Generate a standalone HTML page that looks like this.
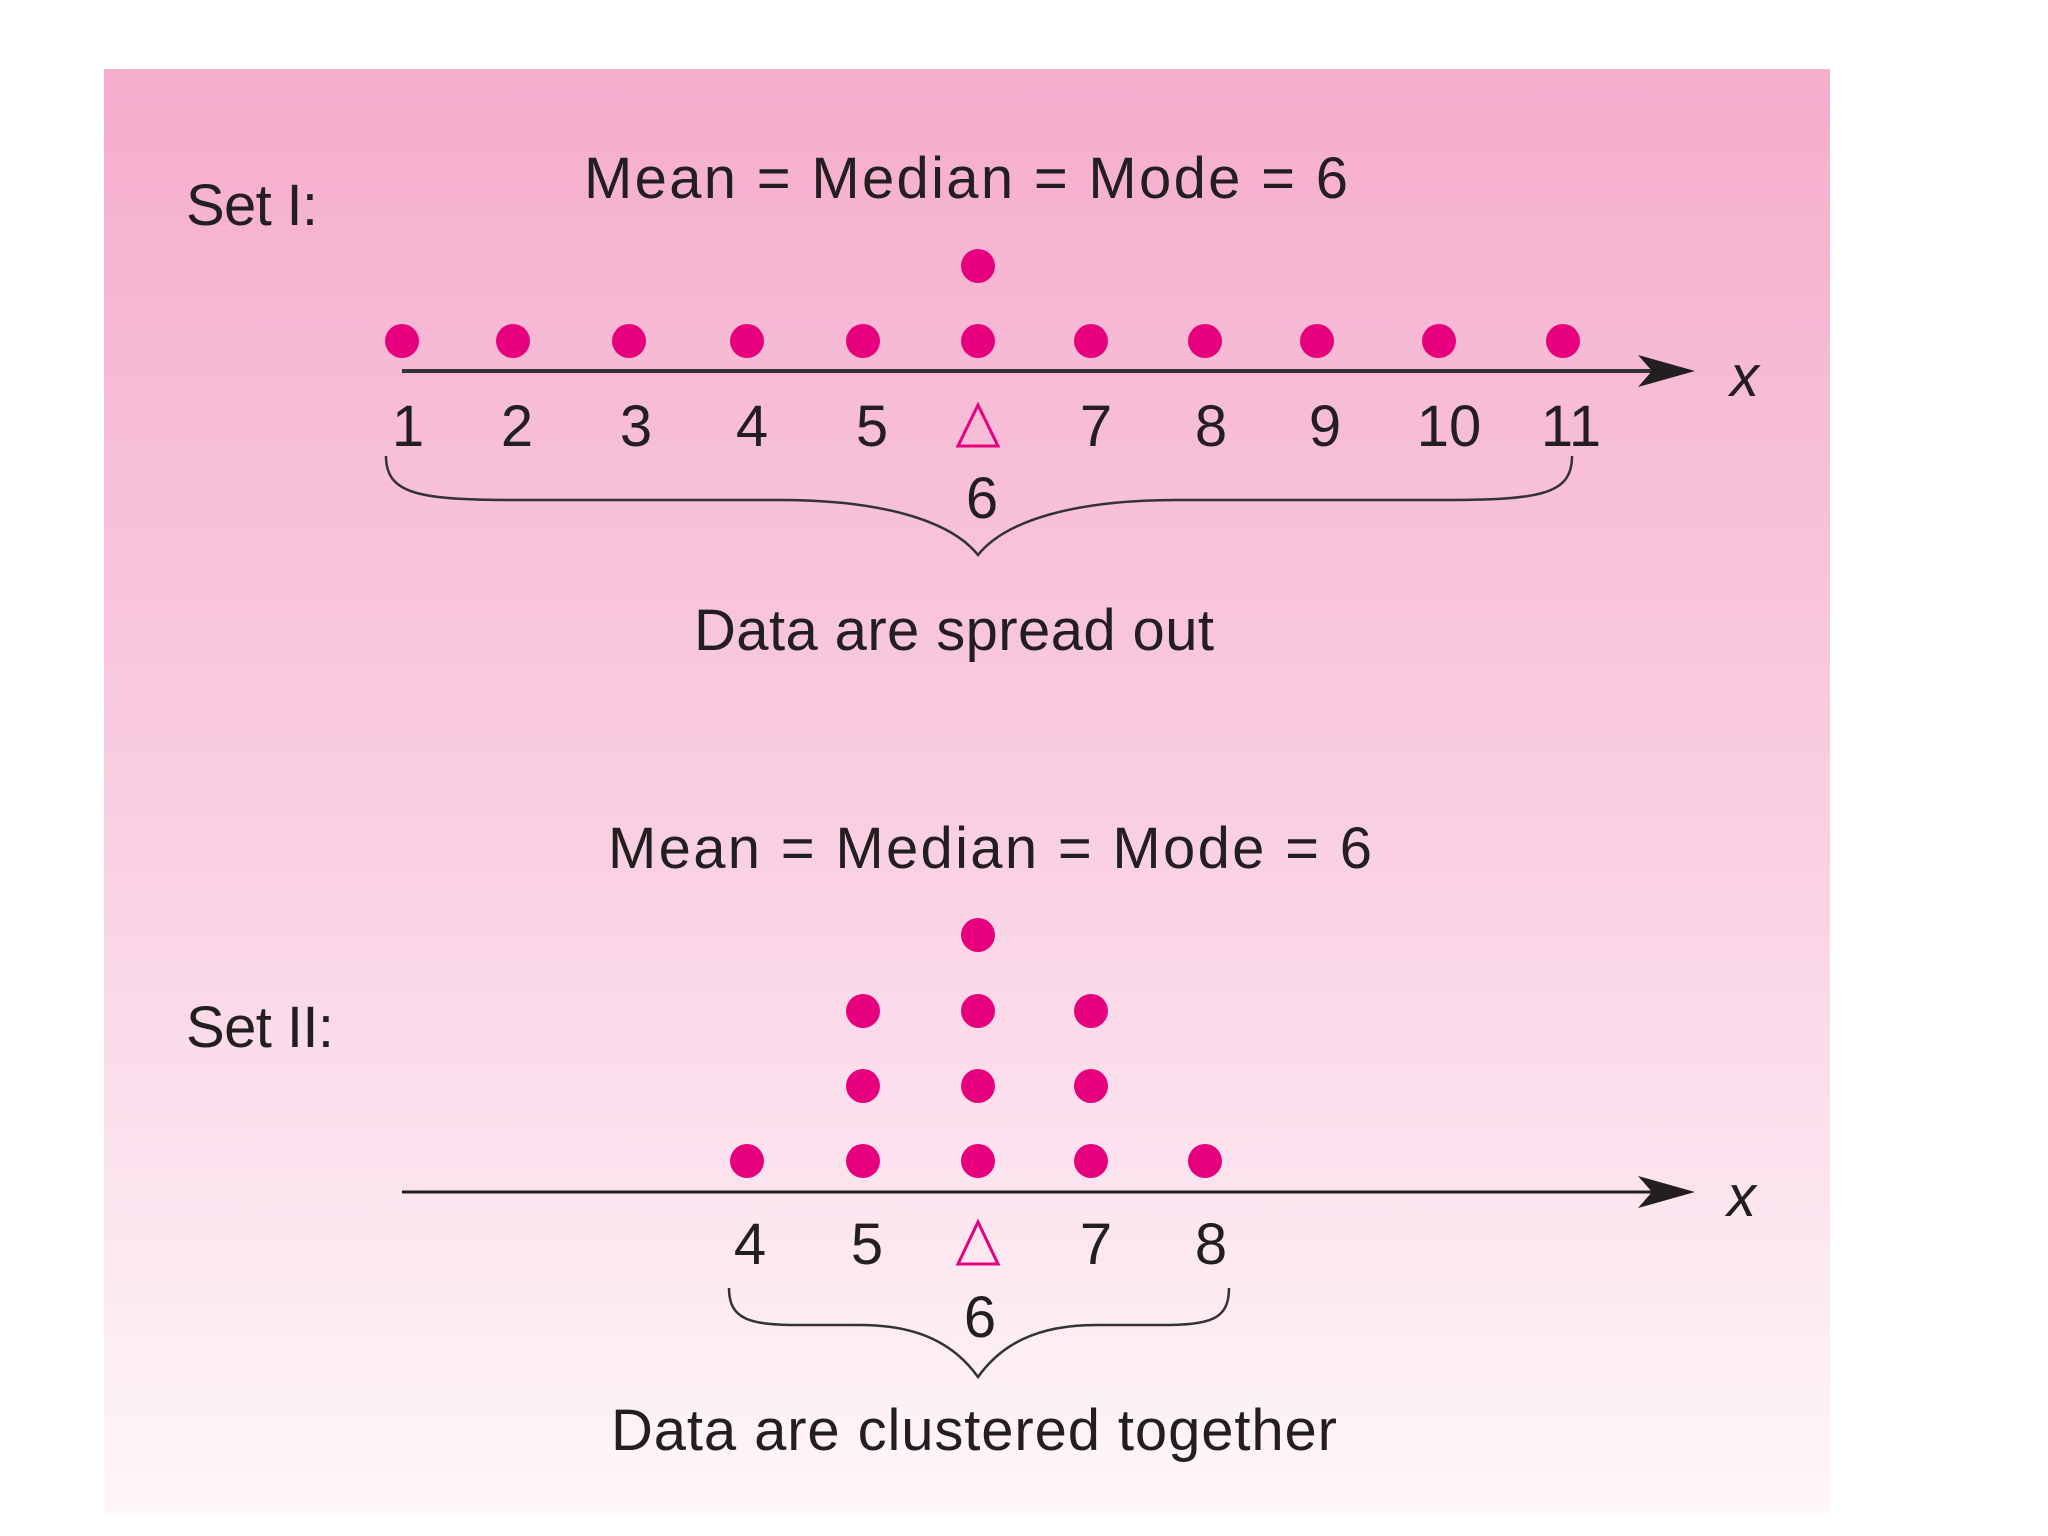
<!DOCTYPE html>
<html><head><meta charset="utf-8"><style>html,body{margin:0;padding:0;background:#fff}svg{display:block}</style></head>
<body>
<svg width="2048" height="1536" viewBox="0 0 2048 1536" xmlns="http://www.w3.org/2000/svg" font-family="Liberation Sans, sans-serif" fill="#231f20">
<defs><linearGradient id="g" x1="0" y1="0" x2="0" y2="1">
<stop offset="0" stop-color="#f5adcc"/><stop offset="0.5" stop-color="#f9cde1"/><stop offset="1" stop-color="#fef7fa"/></linearGradient></defs>
<rect x="104" y="69" width="1726" height="1444" fill="url(#g)"/>
<g font-size="58">
<text x="186" y="225" textLength="132">Set I:</text>
<text x="584" y="198" textLength="764">Mean = Median = Mode = 6</text>
<text x="694" y="650" textLength="520">Data are spread out</text>
<text x="608" y="868" textLength="764">Mean = Median = Mode = 6</text>
<text x="186" y="1047" textLength="148">Set II:</text>
<text x="611" y="1450" textLength="726">Data are clustered together</text>
</g>
<g fill="#e6007e">
<circle cx="978" cy="266" r="17"/>
<circle cx="402" cy="341" r="17"/><circle cx="513" cy="341" r="17"/><circle cx="629" cy="341" r="17"/><circle cx="747" cy="341" r="17"/><circle cx="863" cy="341" r="17"/><circle cx="978" cy="341" r="17"/><circle cx="1091" cy="341" r="17"/><circle cx="1205" cy="341" r="17"/><circle cx="1317" cy="341" r="17"/><circle cx="1439" cy="341" r="17"/><circle cx="1563" cy="341" r="17"/>
<circle cx="978" cy="935" r="17"/>
<circle cx="863" cy="1011" r="17"/><circle cx="978" cy="1011" r="17"/><circle cx="1091" cy="1011" r="17"/>
<circle cx="863" cy="1086" r="17"/><circle cx="978" cy="1086" r="17"/><circle cx="1091" cy="1086" r="17"/>
<circle cx="747" cy="1161" r="17"/><circle cx="863" cy="1161" r="17"/><circle cx="978" cy="1161" r="17"/><circle cx="1091" cy="1161" r="17"/><circle cx="1205" cy="1161" r="17"/>
</g>
<line x1="402" y1="371" x2="1660" y2="371" stroke="#333" stroke-width="4"/>
<path d="M1695 371 L1638 355 L1652 371 L1638 387 Z" fill="#231f20"/>
<line x1="402" y1="1192" x2="1660" y2="1192" stroke="#231f20" stroke-width="3"/>
<path d="M1695 1192 L1638 1176 L1652 1192 L1638 1208 Z" fill="#231f20"/>
<g font-size="58" font-style="italic"><text x="1730" y="396">x</text><text x="1727" y="1216">x</text></g>
<g font-size="58" text-anchor="middle">
<text x="408" y="446">1</text><text x="517" y="446">2</text><text x="636" y="446">3</text><text x="752" y="446">4</text><text x="872" y="446">5</text><text x="1096" y="446">7</text><text x="1211" y="446">8</text><text x="1325" y="446">9</text><text x="1449" y="446">10</text><text x="1571" y="446">11</text>
<text x="982" y="518">6</text>
<text x="750" y="1264">4</text><text x="867" y="1264">5</text><text x="1096" y="1264">7</text><text x="1211" y="1264">8</text>
<text x="980" y="1337">6</text>
</g>
<g fill="none" stroke="#e6007e" stroke-width="3">
<path d="M978 405 L958 446 L998 446 Z"/>
<path d="M978 1222 L958 1264 L998 1264 Z"/>
</g>
<g fill="none" stroke="#333" stroke-width="2.5">
<path d="M386 456 C386 495 420 500 520 500 L780 500 C880 500 950 520 978 555 C1006 520 1076 500 1176 500 L1440 500 C1540 500 1572 495 1572 456"/>
<path d="M729 1288 C729 1320 750 1325 800 1325 L860 1325 C920 1325 955 1345 978 1377 C1001 1345 1036 1325 1096 1325 L1160 1325 C1210 1325 1229 1320 1229 1288"/>
</g>
</svg>
</body></html>
